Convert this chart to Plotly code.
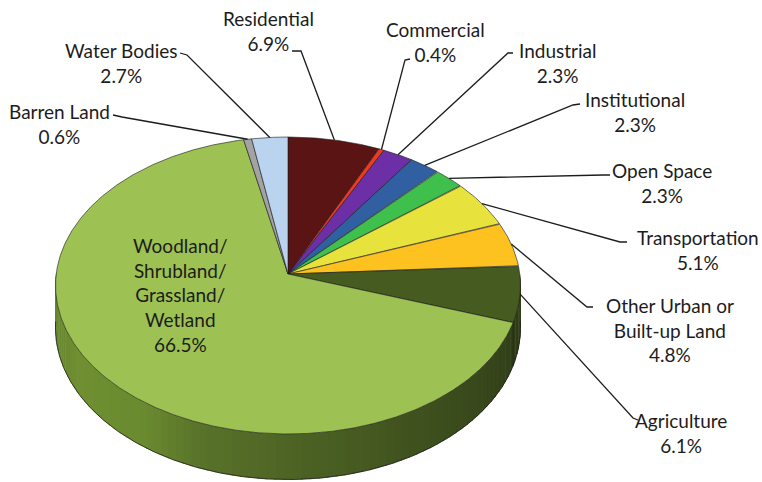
import numpy as np
import plotly.graph_objects as go

# Land-use shares (percent), clockwise from 12 o'clock
categories = [
    "Residential", "Commercial", "Industrial", "Institutional", "Open Space",
    "Transportation", "Other Urban or Built-up Land", "Agriculture",
    "Woodland/Shrubland/Grassland/Wetland", "Barren Land", "Water Bodies",
]
shares = [6.9, 0.4, 2.3, 2.3, 2.3, 5.1, 4.8, 6.1, 66.5, 0.6, 2.7]
label_names = [
    "Residential", "Commercial", "Industrial", "Institutional", "Open Space",
    "Transportation", "Other Urban or<br>Built-up Land", "Agriculture",
    "Woodland/<br>Shrubland/<br>Grassland/<br>Wetland", "Barren Land", "Water Bodies",
]

top_colors = [
    "#5a1414", "#ee3b1f", "#6d2fa6", "#3060a2", "#3fbf4c", "#e8e23c",
    "#fdc21f", "#455b1f", "#9dc152", "#a3a3a3", "#bad4ef",
]

# label placement: text centre, elbow of leader (None = label sits on slice)
label_pos = [
    (268, 31), (435, 42), (557, 63), (635, 112), (662, 183), (698, 250),
    (670, 330), (681, 433), (180, 295), (59, 124), (121, 63),
]
leader_elbows = [
    [(292, 51), (301, 51)],
    [(410, 59), (405, 60)],
    [(513, 53), (508, 53)],
    [(580, 104), (573, 105)],
    [(610, 175), (603, 175)],
    [(627, 242), (620, 242)],
    [(593, 307), (587, 307)],
    [(638, 420), (633, 418)],
    None,
    [(113, 115), (122, 117)],
    [(180, 53), (187, 55)],
]

# 3-D pie projection parameters (screen pixels)
CX, CY = 288.0, 274.0
KX, KY = 231.8, 147.6
PERSP = 0.0774
DEPTH = 42.0


def project(theta_deg, drop=0.0):
    t = np.radians(theta_deg)
    X, Z = np.sin(t), np.cos(t)
    w = 1.0 + PERSP * Z
    return CX + KX * X / w, CY - KY * Z / w + drop / w


def arc(a0, a1, drop=0.0, step=0.5):
    n = max(2, int(abs(a1 - a0) / step) + 1)
    th = np.linspace(a0, a1, n)
    return project(th, drop)


def hex_to_rgb(h):
    h = h.lstrip("#")
    return np.array([int(h[i:i + 2], 16) for i in (0, 2, 4)], dtype=float)


def blend(stops, theta):
    angs = [s[0] for s in stops]
    cols = np.array([hex_to_rgb(s[1]) for s in stops])
    rgb = [np.interp(theta, angs, cols[:, k]) for k in range(3)]
    return "rgb(%d,%d,%d)" % tuple(int(round(v)) for v in rgb)


# side shading by angle
side_stops = {
    7: [(86, "#2b3712"), (110, "#303d16")],
    8: [(108, "#323f18"), (120, "#35441a"), (150, "#3f521e"), (177, "#4c6224"),
        (200, "#58722a"), (215, "#6a8a2f"), (240, "#6f8f32"), (272, "#62802c")],
}

bounds = np.concatenate([[0], np.cumsum(shares)]) * 3.6
fig = go.Figure()
edge = "rgba(25,25,25,0.75)"

# side walls (front half only)
for i, name in enumerate(categories):
    a0, a1 = bounds[i], bounds[i + 1]
    lo, hi = max(a0, 90.0), min(a1, 270.0)
    if hi <= lo:
        continue
    stops = side_stops.get(i, [(0, top_colors[i]), (360, top_colors[i])])
    edges = np.arange(lo, hi, 2.0).tolist() + [hi]
    for t0, t1 in zip(edges[:-1], edges[1:]):
        tx, ty = arc(t0, t1 + 0.3, 0.0, 0.25)
        bx, by = arc(t1 + 0.3, t0, DEPTH, 0.25)
        col = blend(stops, 0.5 * (t0 + t1))
        fig.add_trace(go.Scatter(
            x=np.concatenate([tx, bx]), y=np.concatenate([ty, by]),
            mode="lines", fill="toself", fillcolor=col,
            line=dict(width=0.5, color=col), hoverinfo="skip", showlegend=False))

# outline of the side
bx, by = arc(92, 268, DEPTH, 0.5)
fig.add_trace(go.Scatter(x=bx, y=by, mode="lines", line=dict(color=edge, width=1),
                         hoverinfo="skip", showlegend=False))
sx, sy = project(np.array([bounds[8], bounds[8]]), np.array([0.0, DEPTH]))
fig.add_trace(go.Scatter(x=sx, y=sy, mode="lines", line=dict(color=edge, width=0.8),
                         hoverinfo="skip", showlegend=False))

# top faces
for i, name in enumerate(categories):
    a0, a1 = bounds[i], bounds[i + 1]
    ax, ay = arc(a0, a1, 0.0, 0.25)
    xs = np.concatenate([[CX], ax, [CX]])
    ys = np.concatenate([[CY], ay, [CY]])
    fig.add_trace(go.Scatter(
        x=xs, y=ys, mode="lines", fill="toself", fillcolor=top_colors[i],
        line=dict(color=edge, width=0.8), name=name,
        hoverinfo="skip", showlegend=False))

# leader lines and labels
annotations = []
for i, name in enumerate(categories):
    mid = 0.5 * (bounds[i] + bounds[i + 1])
    text = "%s<br>%.1f%%" % (label_names[i], shares[i])
    lx, ly = label_pos[i]
    if leader_elbows[i] is not None:
        rx, ry = project(mid)
        pts = leader_elbows[i] + [(float(rx), float(ry))]
        fig.add_trace(go.Scatter(
            x=[p[0] for p in pts], y=[p[1] for p in pts], mode="lines",
            line=dict(color="#1c1c1c", width=1.3), hoverinfo="skip", showlegend=False))
    annotations.append(dict(
        x=lx, y=ly, xref="x", yref="y", text=text, showarrow=False,
        xanchor="center", yanchor="middle", align="center",
        font=dict(family="Lato", size=19, color="#1c1c1c")))

fig.update_layout(
    width=762, height=482,
    margin=dict(l=0, r=0, t=0, b=0),
    paper_bgcolor="white", plot_bgcolor="white",
    xaxis=dict(range=[0, 762], visible=False, fixedrange=True),
    yaxis=dict(range=[482, 0], visible=False, fixedrange=True),
    annotations=annotations,
    showlegend=False,
)

fig.write_html("out.html")
